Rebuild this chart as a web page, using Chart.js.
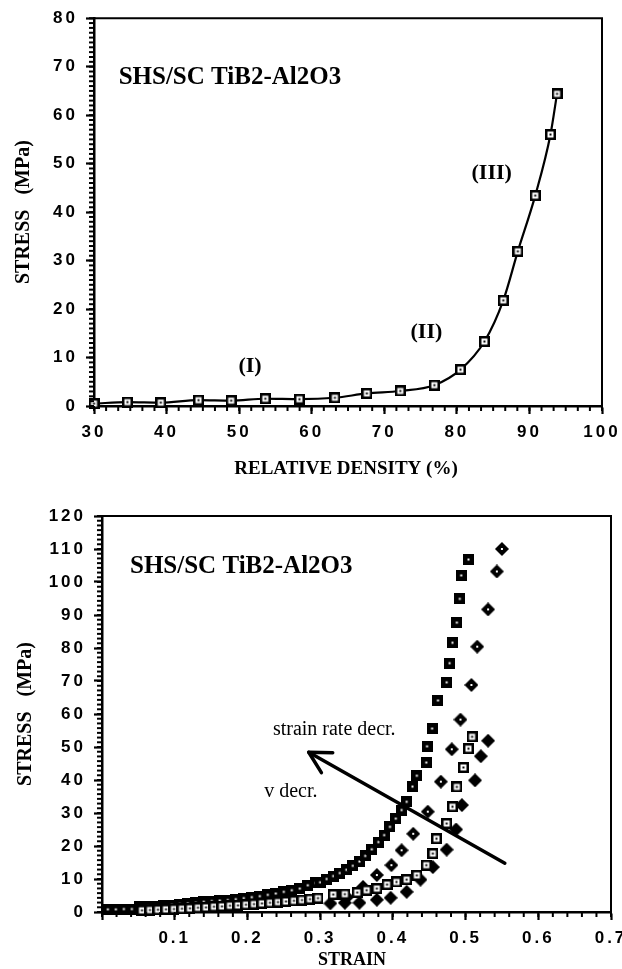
<!DOCTYPE html>
<html><head><meta charset="utf-8">
<script src="https://cdn.jsdelivr.net/npm/chart.js@4/dist/chart.umd.min.js"></script>
<style>
html,body{margin:0;padding:0;background:#fff;overflow:hidden;width:622px;height:969px}
canvas{position:absolute;left:0}
</style></head>
<body>
<canvas id="c1" width="622" height="490" style="top:0"></canvas>
<canvas id="c2" width="622" height="479" style="top:490px"></canvas>
<script>
// ---------- Top chart data ----------
const densityPct    = [30.0, 34.6, 39.2, 44.4, 48.9, 53.6, 58.3, 63.2, 67.6, 72.2, 76.9, 80.5, 83.8, 86.4, 88.4, 90.8, 92.9, 93.8];
const densityStress = [0.5, 0.8, 0.7, 1.2, 1.1, 1.5, 1.4, 1.7, 2.6, 3.1, 4.3, 7.5, 13.3, 21.8, 31.9, 43.4, 56.0, 64.4];
const densityTicks  = [30, 40, 50, 60, 70, 80, 90, 100];
const stressTicksTop = [0, 10, 20, 30, 40, 50, 60, 70, 80];

// ---------- Bottom chart data ----------
const strainA = [0.008,0.019,0.030,0.041,0.052,0.063,0.074,0.085,0.096,0.107,0.118,0.129,0.140,0.151,0.162,0.173,0.184,0.195,0.206,0.217,0.228,0.239,0.250,0.261,0.272,0.283,0.294,0.300,0.309,0.318,0.327,0.336,0.345,0.354,0.362,0.371,0.380,0.388,0.396,0.404,0.412,0.419,0.427,0.433,0.446,0.447,0.454,0.462,0.474,0.478,0.482,0.488,0.492,0.494,0.504];
const stressA = [0.8,0.8,0.9,0.9,1.6,1.7,1.8,1.9,2.1,2.4,2.6,2.8,3.1,3.3,3.5,3.6,3.9,4.2,4.5,4.8,5.2,5.6,6.1,6.6,7.1,8.1,8.8,9.0,10.0,10.9,11.8,12.8,14.0,15.3,17.0,19.0,21.2,23.3,25.8,28.3,30.9,33.4,38.0,41.3,45.3,50.2,55.6,64.1,69.6,75.4,81.6,87.7,94.9,102.0,106.8];

const strainB = [0.055,0.066,0.077,0.088,0.099,0.110,0.121,0.132,0.143,0.154,0.165,0.176,0.187,0.198,0.209,0.220,0.231,0.242,0.253,0.264,0.275,0.286,0.297,0.318,0.334,0.351,0.364,0.378,0.392,0.405,0.419,0.433,0.446,0.455,0.460,0.474,0.482,0.488,0.497,0.504,0.509];
const stressB = [0.5,0.6,0.7,0.8,0.9,1.0,1.1,1.3,1.4,1.6,1.7,1.9,2.0,2.2,2.4,2.6,2.8,3.0,3.2,3.4,3.6,3.9,4.2,5.3,5.4,5.9,6.6,7.1,8.3,9.1,9.8,11.1,14.2,17.7,22.2,26.8,31.9,37.9,43.8,49.5,53.1];

const strainC = [0.314,0.334,0.354,0.378,0.397,0.419,0.438,0.455,0.474,0.487,0.495,0.513,0.521,0.531];
const stressC = [2.6,2.8,2.8,3.7,4.3,6.1,9.8,13.6,18.9,25.0,32.4,39.9,47.2,51.9];

const strainD = [0.337,0.359,0.378,0.398,0.412,0.428,0.448,0.466,0.481,0.493,0.508,0.516,0.531,0.543,0.550];
const stressD = [4.5,7.6,11.2,14.2,18.7,23.7,30.4,39.5,49.3,58.3,68.8,80.4,91.7,103.2,110.0];

const strainTicks = [0, 0.1, 0.2, 0.3, 0.4, 0.5, 0.6, 0.7];
const stressTicksBottom = [0,10,20,30,40,50,60,70,80,90,100,110,120];

// minor tick spacing per chart (styling, not data)
const minorCfg = {c1: [['x', 10/6], ['y', 1]], c2: [['x', 0.02], ['y', 10/7]]};

// ---------- marker images ----------
function mk(kind){
  const c = document.createElement('canvas');
  const g = c.getContext('2d');
  if (kind === 'openSq') {
    c.width = c.height = 11;
    g.fillStyle = '#000'; g.fillRect(0,0,11,11);
    g.fillStyle = '#fff'; g.fillRect(2.5,2.5,6,6);
    g.fillStyle = '#000'; g.fillRect(4.5,4.5,2,2);
  } else if (kind === 'solidSq') {
    c.width = c.height = 11;
    g.fillStyle = '#000'; g.fillRect(0,0,11,11);
    g.fillStyle = '#fff'; g.fillRect(4.5,4.5,2,2);
  } else {
    c.width = c.height = 14;
    g.fillStyle = '#000'; g.beginPath();
    g.moveTo(7,0); g.lineTo(14,7); g.lineTo(7,14); g.lineTo(0,7); g.closePath(); g.fill();
    if (kind === 'diamondDot') { g.fillStyle = '#fff'; g.fillRect(6,6,2,2); }
  }
  return c;
}

const pairs = (xs, ys) => xs.map((x, i) => ({x, y: ys[i]}));

// ---------- plugins ----------
const spacingPlugin = {
  id: 'spacing',
  beforeDraw(chart){ chart.ctx.letterSpacing = '3px'; },
  beforeDatasetsDraw(chart){ chart.ctx.letterSpacing = '0px'; }
};

const framePlugin = {
  id: 'frame',
  afterDraw(chart){
    const ctx = chart.ctx, a = chart.chartArea;
    ctx.save();
    ctx.strokeStyle = '#000';
    ctx.lineWidth = 2;
    ctx.beginPath(); ctx.moveTo(a.left, a.top); ctx.lineTo(a.right, a.top); ctx.lineTo(a.right, a.bottom); ctx.stroke();
    const list = minorCfg[chart.canvas.id] || [];
    ctx.lineWidth = 2;
    for (let k = 0; k < list.length; k++) {
      const id = list[k][0], step = list[k][1];
      const s = chart.scales[id];
      const n = Math.round((s.max - s.min) / step);
      for (let i = 0; i <= n; i++) {
        const p = s.getPixelForValue(s.min + i * step);
        ctx.beginPath();
        if (id === 'x') { ctx.moveTo(p, a.bottom); ctx.lineTo(p, a.bottom + 5); }
        else { ctx.moveTo(a.left, p); ctx.lineTo(a.left - 5, p); }
        ctx.stroke();
      }
    }
    ctx.restore();
  }
};

const annotPlugin = {
  id: 'annot',
  afterDraw(chart, args, opts){
    const {ctx, scales: {x, y}, chartArea: a} = chart;
    ctx.save();
    ctx.letterSpacing = '0px';
    ctx.fillStyle = '#000'; ctx.strokeStyle = '#000';
    for (const t of (opts.texts || [])) {
      ctx.font = t.font;
      ctx.textAlign = t.align || 'left';
      ctx.textBaseline = t.baseline || 'alphabetic';
      ctx.fillText(t.text, x.getPixelForValue(t.x), y.getPixelForValue(t.y));
    }
    if (opts.xTitle) {
      ctx.font = opts.xTitle.font; ctx.textAlign = 'center'; ctx.textBaseline = 'alphabetic';
      ctx.fillText(opts.xTitle.text, opts.xTitle.cx, opts.xTitle.by);
    }
    if (opts.yTitle) {
      ctx.save();
      ctx.translate(opts.yTitle.cx, (a.top + a.bottom) / 2);
      ctx.rotate(-Math.PI / 2);
      ctx.font = opts.yTitle.font; ctx.textAlign = 'center'; ctx.textBaseline = 'middle';
      ctx.fillText(opts.yTitle.text, 0, 0);
      ctx.restore();
    }
    if (opts.arrow) {
      const r = opts.arrow;
      const x0 = x.getPixelForValue(r.from[0]), y0 = y.getPixelForValue(r.from[1]);
      const x1 = x.getPixelForValue(r.to[0]),   y1 = y.getPixelForValue(r.to[1]);
      ctx.lineWidth = 3.5; ctx.lineCap = 'round'; ctx.lineJoin = 'round';
      ctx.beginPath(); ctx.moveTo(x0, y0); ctx.lineTo(x1, y1); ctx.stroke();
      const ang = Math.atan2(y0 - y1, x0 - x1);
      const L = 24, spread = 0.5;
      ctx.beginPath();
      ctx.moveTo(x1 + L * Math.cos(ang + spread), y1 + L * Math.sin(ang + spread));
      ctx.lineTo(x1, y1);
      ctx.lineTo(x1 + L * Math.cos(ang - spread), y1 + L * Math.sin(ang - spread));
      ctx.stroke();
    }
    ctx.restore();
  }
};

Chart.register(spacingPlugin, framePlugin, annotPlugin);

const tickFont = {family: 'Liberation Sans', size: 17, weight: 'bold'};
function axisBase(){
  return {
    grid: {display: true, drawOnChartArea: false, drawTicks: true, tickLength: 8, tickWidth: 2.2, tickColor: '#000'},
    border: {display: true, color: '#000', width: 2.5},
    ticks: {color: '#000', font: tickFont, autoSkip: false, maxRotation: 0, padding: 8}
  };
}

// ---------- Top chart ----------
const xTop = axisBase();
Object.assign(xTop, {type: 'linear', min: 30, max: 100,
  afterBuildTicks: s => { s.ticks = densityTicks.map(v => ({value: v})); },
  afterFit: s => { s.height = 84; s.paddingLeft = 0; s.paddingRight = 0; }});
xTop.ticks.callback = v => String(v);
const yTop = axisBase();
Object.assign(yTop, {type: 'linear', min: 0, max: 80,
  afterBuildTicks: s => { s.ticks = stressTicksTop.map(v => ({value: v})); },
  afterFit: s => { s.width = 94; }});
yTop.ticks.callback = v => String(v);

new Chart(document.getElementById('c1'), {
  type: 'scatter',
  data: { datasets: [{
    data: pairs(densityPct, densityStress),
    showLine: true, borderColor: '#000', borderWidth: 2.2,
    cubicInterpolationMode: 'monotone',
    pointStyle: mk('openSq'), pointRadius: 5, clip: false
  }]},
  options: {
    responsive: false, animation: false, events: [],
    layout: {padding: {left: 0, right: 20, top: 17, bottom: 0}},
    scales: {x: xTop, y: yTop},
    plugins: {
      legend: {display: false}, tooltip: {enabled: false},
      annot: {
        texts: [
          {text: 'SHS/SC TiB2-Al2O3', x: 33.4, y: 66.4, font: 'bold 25px "Liberation Serif"'},
          {text: '(III)', x: 84.8, y: 48.1, font: 'bold 22px "Liberation Serif"', align: 'center', baseline: 'middle'},
          {text: '(II)',  x: 75.8, y: 15.2, font: 'bold 22px "Liberation Serif"', align: 'center', baseline: 'middle'},
          {text: '(I)',   x: 51.5, y: 8.2,  font: 'bold 22px "Liberation Serif"', align: 'center', baseline: 'middle'}
        ],
        xTitle: {text: 'RELATIVE DENSITY (%)', cx: 346, by: 474, font: 'bold 19px "Liberation Serif"'},
        yTitle: {text: 'STRESS   (MPa)', cx: 24, font: 'bold 20px "Liberation Serif"'}
      }
    }
  }
});

// ---------- Bottom chart ----------
const xBot = axisBase();
Object.assign(xBot, {type: 'linear', min: 0, max: 0.7,
  afterBuildTicks: s => { s.ticks = strainTicks.map(v => ({value: v})); },
  afterFit: s => { s.height = 57; s.paddingLeft = 0; s.paddingRight = 0; }});
xBot.ticks.callback = v => (v === 0 ? '' : v.toFixed(1));
const yBot = axisBase();
Object.assign(yBot, {type: 'linear', min: 0, max: 120,
  afterBuildTicks: s => { s.ticks = stressTicksBottom.map(v => ({value: v})); },
  afterFit: s => { s.width = 102; }});
yBot.ticks.callback = v => String(v);

new Chart(document.getElementById('c2'), {
  type: 'scatter',
  data: { datasets: [
    {data: pairs(strainB, stressB), pointStyle: mk('openSq'),     pointRadius: 5, clip: false},
    {data: pairs(strainC, stressC), pointStyle: mk('diamond'),    pointRadius: 6, clip: false},
    {data: pairs(strainD, stressD), pointStyle: mk('diamondDot'), pointRadius: 6, clip: false},
    {data: pairs(strainA, stressA), pointStyle: mk('solidSq'),    pointRadius: 5, clip: false}
  ]},
  options: {
    responsive: false, animation: false, events: [],
    layout: {padding: {left: 0, right: 11, top: 26, bottom: 0}},
    scales: {x: xBot, y: yBot},
    plugins: {
      legend: {display: false}, tooltip: {enabled: false},
      annot: {
        texts: [
          {text: 'SHS/SC TiB2-Al2O3', x: 0.0385, y: 102.7, font: 'bold 25px "Liberation Serif"'},
          {text: 'strain rate decr.', x: 0.235, y: 53.6, font: '20px "Liberation Serif"'},
          {text: 'v decr.', x: 0.223, y: 34.8, font: '20px "Liberation Serif"'}
        ],
        arrow: {from: [0.554, 14.8], to: [0.2843, 48.4]},
        xTitle: {text: 'STRAIN', cx: 352, by: 475, font: 'bold 18px "Liberation Serif"'},
        yTitle: {text: 'STRESS   (MPa)', cx: 26, font: 'bold 20px "Liberation Serif"'}
      }
    }
  }
});
</script>
</body></html>
